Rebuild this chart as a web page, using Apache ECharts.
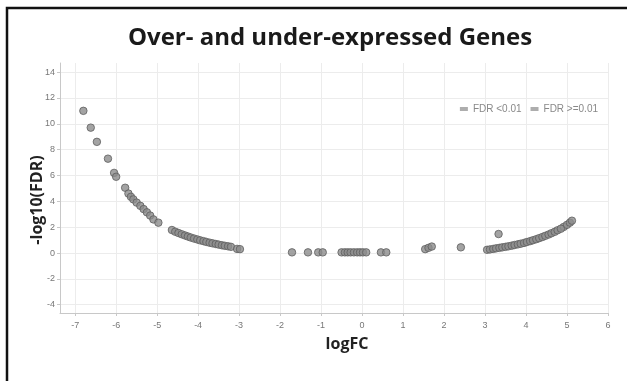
<!DOCTYPE html>
<html><head><meta charset="utf-8">
<script src="https://cdn.jsdelivr.net/npm/echarts@6/dist/echarts.min.js"></script>
<style>html,body{margin:0;padding:0;background:#fff}#c{width:627px;height:381px}</style>
</head><body><div id="c"></div>
<script>
const xTicks = [-7,-6,-5,-4,-3,-2,-1,0,1,2,3,4,5,6];
const yTicks = [-4,-2,0,2,4,6,8,10,12,14];
// logFC values
const logFC = [-6.80,-6.62,-6.47,-6.20,-6.05,-6.00,-5.78,-5.70,-5.64,-5.58,-5.50,-5.41,-5.33,-5.25,-5.17,-5.09,-4.97,
  -4.64,-4.56,-4.48,-4.40,-4.32,-4.25,-4.18,-4.10,-4.02,-3.95,-3.87,-3.80,-3.72,-3.65,-3.57,-3.50,-3.42,-3.35,-3.27,-3.20,-3.05,-2.98,
  -1.71,-1.32,-1.07,-0.96,-0.50,-0.42,-0.35,-0.28,-0.20,-0.12,-0.05,0.02,0.10,0.46,0.59,
  1.54,1.62,1.70,2.41,3.33,
  3.05,3.12,3.20,3.27,3.35,3.42,3.50,3.57,3.65,3.72,3.80,3.87,3.95,4.02,4.10,4.17,4.25,4.32,4.40,4.47,4.55,4.62,4.70,4.77,4.85,4.92,5.00,5.07,5.12];
// -log10(FDR) values
const negLogFDR = [11.0,9.7,8.6,7.3,6.2,5.9,5.05,4.6,4.35,4.15,3.9,3.65,3.4,3.15,2.9,2.6,2.35,
  1.78,1.65,1.55,1.45,1.36,1.28,1.2,1.12,1.05,0.98,0.92,0.86,0.8,0.75,0.7,0.65,0.6,0.56,0.52,0.48,0.32,0.3,
  0.05,0.05,0.05,0.05,0.05,0.05,0.05,0.05,0.05,0.05,0.05,0.05,0.05,0.05,0.05,
  0.3,0.4,0.5,0.44,1.47,
  0.25,0.28,0.32,0.36,0.4,0.44,0.48,0.52,0.57,0.62,0.67,0.72,0.78,0.85,0.92,0.99,1.07,1.15,1.24,1.33,1.43,1.53,1.64,1.76,1.88,2.02,2.18,2.35,2.5];
const seriesNames = ['FDR <0.01','FDR >=0.01'];
const titleText = 'Over- and under-expressed Genes';
const xName = 'logFC';
const yName = '-log10(FDR)';

const sig = [], nonsig = [];
logFC.forEach((x,i)=>{ const p=[x,negLogFDR[i]]; (negLogFDR[i]>=2?sig:nonsig).push(p); });

const chart = echarts.init(document.getElementById('c'));
const ms = {color:'#8c8c8c', borderColor:'#5e5e5e', borderWidth:1};
chart.setOption({
  animation:false,
  legend:{data:seriesNames, right:24, top:99, icon:'rect', itemWidth:8, itemHeight:4, itemGap:9,
    textStyle:{color:'#888', fontSize:10, fontFamily:'Liberation Sans'},
    itemStyle:{color:'#999', borderWidth:0}},
  graphic:[
    {type:'rect', shape:{x:7, y:8, width:700, height:500}, style:{fill:'none', stroke:'#111', lineWidth:2.5}, silent:true},
    {type:'text', x:330, y:38, style:{text:titleText, textAlign:'center', textVerticalAlign:'middle',
      font:'bold 24px "Open Sans"', fill:'#1a1a1a'}},
    {type:'text', x:347, y:344, style:{text:xName, textAlign:'center', textVerticalAlign:'middle',
      font:'bold 16px "Open Sans"', fill:'#222'}},
    {type:'text', x:37, y:200, rotation:Math.PI/2, style:{text:yName, textAlign:'center', textVerticalAlign:'middle',
      font:'bold 16px "Open Sans"', fill:'#222'}}
  ],
  grid:{left:60, right:19, top:63, bottom:68},
  xAxis:{type:'value', min:-7.37, max:6,
    axisLine:{onZero:false, lineStyle:{color:'#c8c8c8'}},
    axisTick:{show:true, length:3, customValues:xTicks, lineStyle:{color:'#c8c8c8'}},
    axisLabel:{customValues:xTicks, color:'#777', fontSize:9, margin:8, fontFamily:'Liberation Sans'},
    splitLine:{show:true, lineStyle:{color:'#ececec'}}},
  yAxis:{type:'value', min:-4.64, max:14.7,
    axisLine:{show:true, onZero:false, lineStyle:{color:'#c8c8c8'}},
    axisTick:{show:true, length:3, customValues:yTicks, lineStyle:{color:'#c8c8c8'}},
    axisLabel:{customValues:yTicks, color:'#777', fontSize:9, margin:5, fontFamily:'Liberation Sans'},
    splitLine:{show:true, lineStyle:{color:'#ececec'}}},
  series:[
    {name:seriesNames[0], type:'scatter', data:sig, symbolSize:7.5, itemStyle:ms},
    {name:seriesNames[1], type:'scatter', data:nonsig, symbolSize:7.5, itemStyle:ms}
  ]
});
</script></body></html>
